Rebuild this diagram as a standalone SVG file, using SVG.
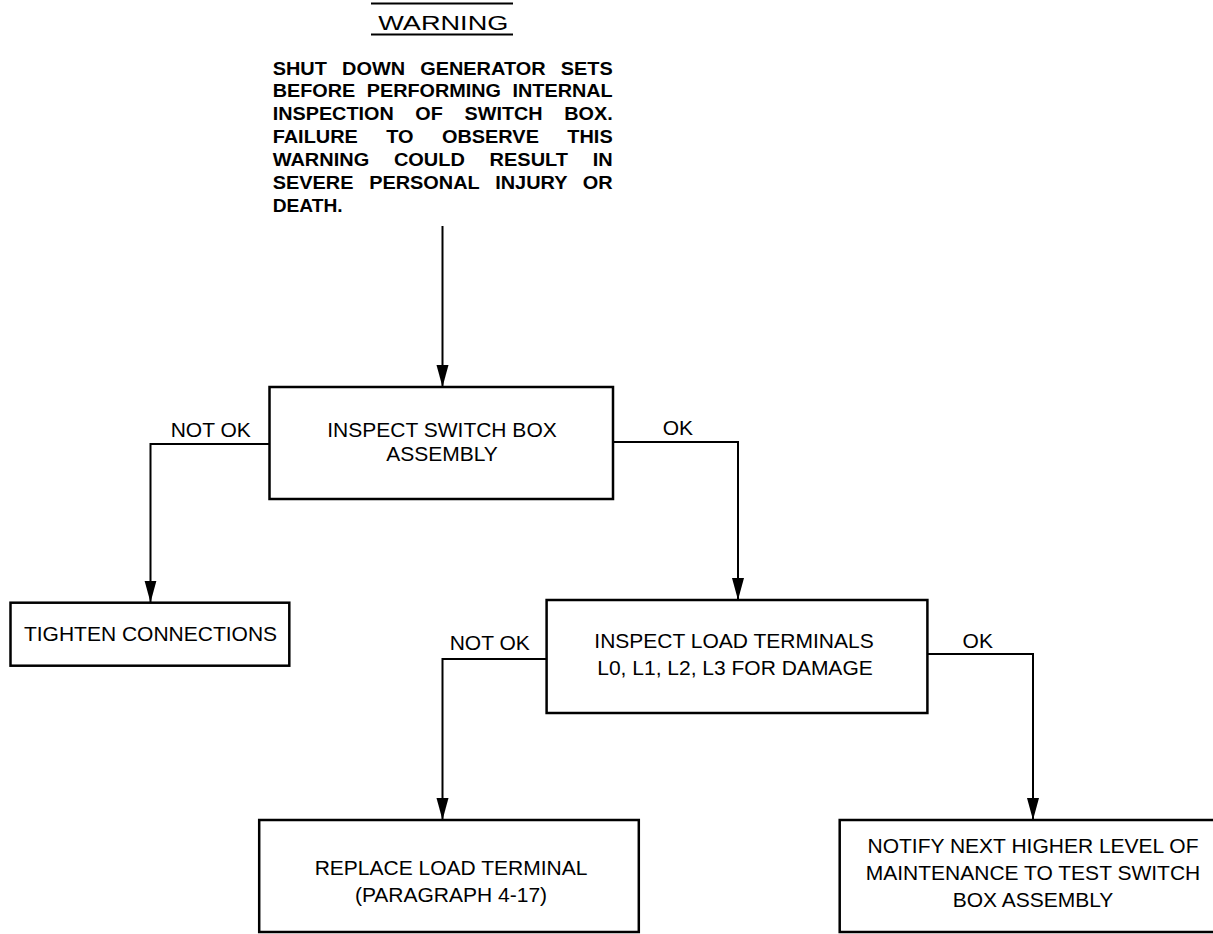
<svg xmlns="http://www.w3.org/2000/svg" width="1213" height="934" viewBox="0 0 1213 934">
<style>
  .box { fill: #fff; stroke: #000; stroke-width: 2.5; }
  .conn { fill: none; stroke: #000; stroke-width: 2; }
  .t { font-family: "Liberation Sans", Arial, Helvetica, sans-serif; font-size: 21px; fill: #000; }
  .c { text-anchor: middle; }
  .w { font-family: "Liberation Sans", Arial, Helvetica, sans-serif; font-size: 18px; font-weight: bold; fill: #000; }
</style>
<defs>
  <marker id="arr" markerUnits="userSpaceOnUse" markerWidth="24" markerHeight="14" refX="22" refY="6" orient="auto">
    <path d="M0,0 L22,6 L0,12 z" fill="#000"/>
  </marker>
</defs>
<rect width="1213" height="934" fill="#fff"/>

<g id="warning">
  <line x1="371" y1="3.5" x2="513" y2="3.5" stroke="#000" stroke-width="2"/>
  <text class="t c" x="443.3" y="30" font-size="24" textLength="130" lengthAdjust="spacingAndGlyphs">WARNING</text>
  <line x1="371" y1="34.5" x2="513" y2="34.5" stroke="#000" stroke-width="2"/>
  <text class="w" x="272.7" y="75" word-spacing="8.7" textLength="340" lengthAdjust="spacingAndGlyphs">SHUT DOWN GENERATOR SETS</text>
  <text class="w" x="272.7" y="97" word-spacing="5.5" textLength="340" lengthAdjust="spacingAndGlyphs">BEFORE PERFORMING INTERNAL</text>
  <text class="w" x="272.7" y="119.5" word-spacing="14.7" textLength="340" lengthAdjust="spacingAndGlyphs">INSPECTION OF SWITCH BOX.</text>
  <text class="w" x="272.7" y="142.5" word-spacing="20.7" textLength="340" lengthAdjust="spacingAndGlyphs">FAILURE TO OBSERVE THIS</text>
  <text class="w" x="272.7" y="165.5" word-spacing="17.3" textLength="340" lengthAdjust="spacingAndGlyphs">WARNING COULD RESULT IN</text>
  <text class="w" x="272.7" y="188.5" word-spacing="9.3" textLength="340" lengthAdjust="spacingAndGlyphs">SEVERE PERSONAL INJURY OR</text>
  <text class="w" x="272.7" y="212" textLength="70" lengthAdjust="spacingAndGlyphs">DEATH.</text>
</g>

<g id="connectors">
  <path class="conn" d="M442.5,226 V387" marker-end="url(#arr)"/>
  <path class="conn" d="M269.5,444 H150.5 V602.5" marker-end="url(#arr)"/>
  <path class="conn" d="M613,442 H738 V600" marker-end="url(#arr)"/>
  <path class="conn" d="M546.6,659 H442.5 V820" marker-end="url(#arr)"/>
  <path class="conn" d="M927.4,654 H1033 V820" marker-end="url(#arr)"/>
  <text class="t" x="170.7" y="437">NOT OK</text>
  <text class="t" x="662.7" y="435">OK</text>
  <text class="t" x="449.7" y="650">NOT OK</text>
  <text class="t" x="962.6" y="648">OK</text>
</g>

<g id="inspect-switch-box">
  <rect class="box" x="269.5" y="387" width="343.5" height="112"/>
  <text class="t c" x="442" y="437">INSPECT SWITCH BOX</text>
  <text class="t c" x="442" y="461">ASSEMBLY</text>
</g>

<g id="tighten-connections">
  <rect class="box" x="10.5" y="602.7" width="278.8" height="63"/>
  <text class="t c" x="150.5" y="641">TIGHTEN CONNECTIONS</text>
</g>

<g id="inspect-load-terminals">
  <rect class="box" x="546.6" y="600" width="380.8" height="113"/>
  <text class="t c" x="734" y="648">INSPECT LOAD TERMINALS</text>
  <text class="t c" x="735" y="675">L0, L1, L2, L3 FOR DAMAGE</text>
</g>

<g id="replace-load-terminal">
  <rect class="box" x="259.2" y="820" width="379.6" height="112"/>
  <text class="t c" x="451" y="875">REPLACE LOAD TERMINAL</text>
  <text class="t c" x="451" y="902">(PARAGRAPH 4-17)</text>
</g>

<g id="notify-next-higher-level">
  <rect class="box" x="839.7" y="820" width="385" height="112"/>
  <text class="t c" x="1033" y="853">NOTIFY NEXT HIGHER LEVEL OF</text>
  <text class="t c" x="1033" y="880">MAINTENANCE TO TEST SWITCH</text>
  <text class="t c" x="1033" y="907">BOX ASSEMBLY</text>
</g>
</svg>
